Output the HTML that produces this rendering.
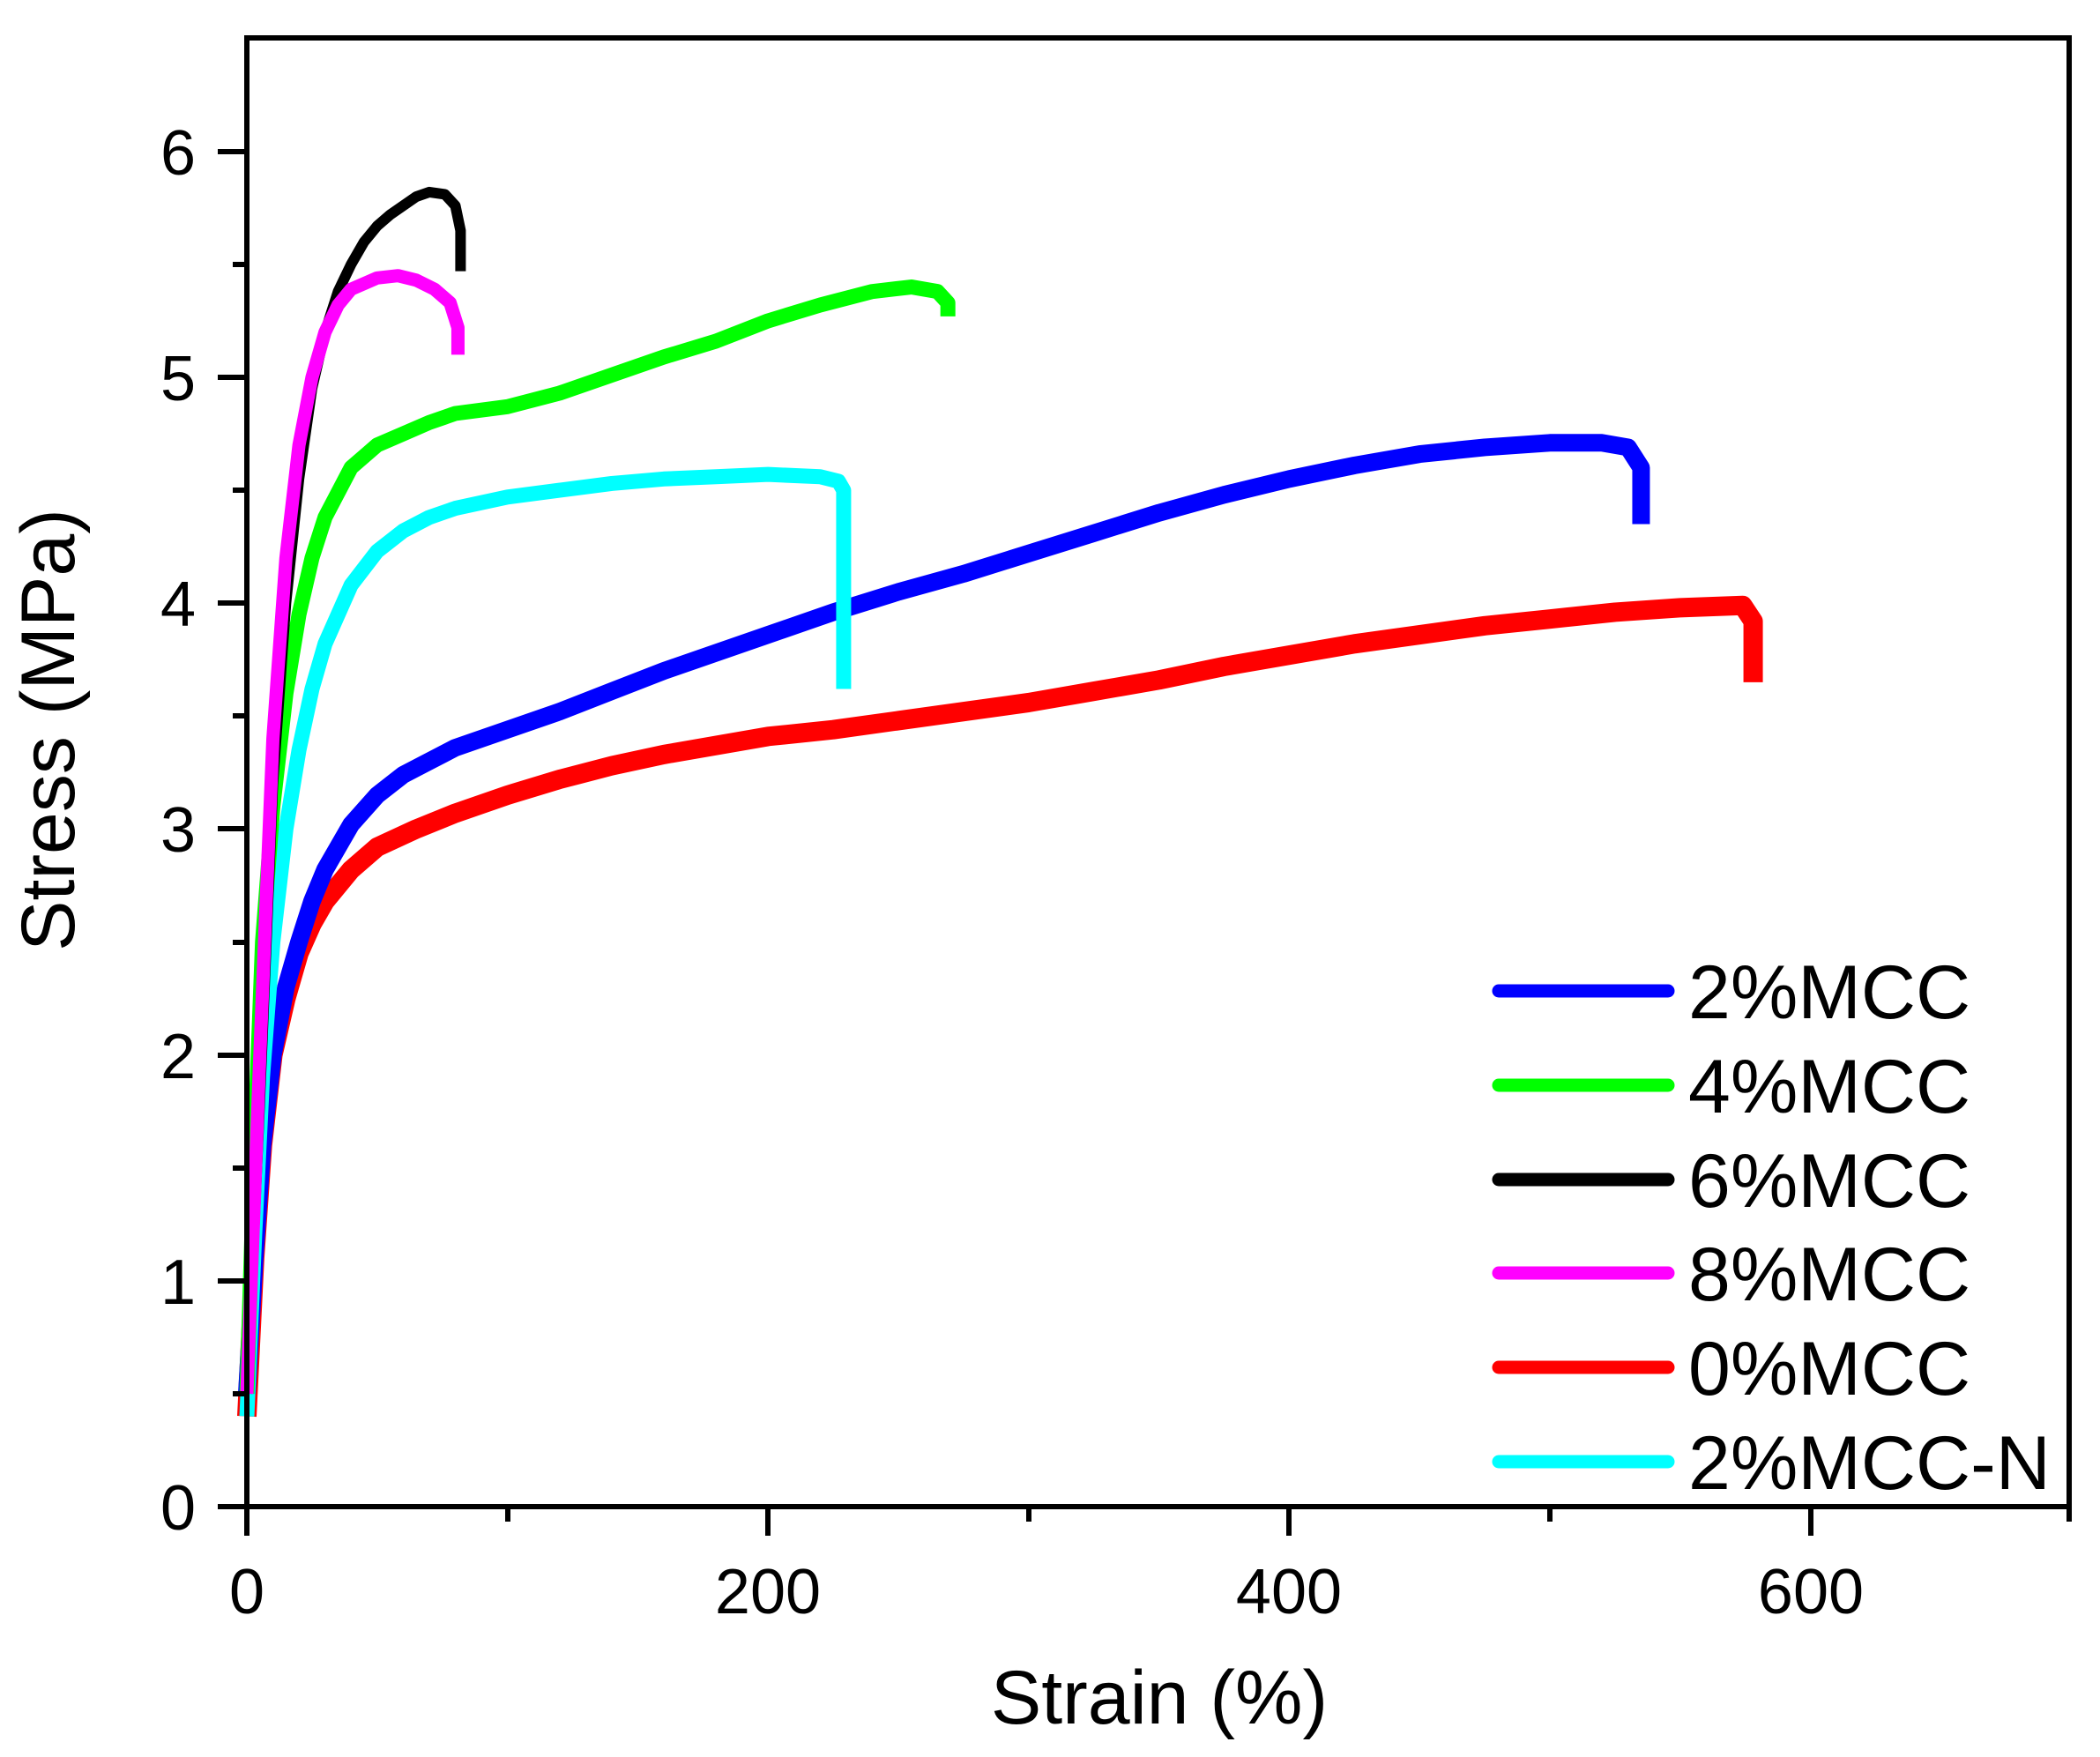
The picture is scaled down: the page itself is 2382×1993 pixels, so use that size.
<!DOCTYPE html>
<html><head><meta charset="utf-8"><style>body{margin:0;background:#fff}svg{display:block}</style></head><body>
<svg width="2382" height="1993" viewBox="0 0 2382 1993" xmlns="http://www.w3.org/2000/svg" font-family="Liberation Sans, sans-serif">
<rect width="2382" height="1993" fill="#fff"/>
<g transform="translate(280,1709) scale(2.956,-256.2)" fill="none" stroke-linejoin="round" stroke-linecap="butt">
<path vector-effect="non-scaling-stroke" stroke="#ff0000" stroke-width="22" d="M0,0.4 L3,1.1 6,1.6 10,2.0 15,2.25 20,2.45 25,2.58 30,2.68 40,2.82 50,2.92 65,3.0 80,3.07 100,3.15 120,3.22 140,3.28 160,3.33 180,3.37 200,3.41 225,3.44 250,3.48 275,3.52 300,3.56 325,3.61 350,3.66 375,3.72 400,3.77 425,3.82 450,3.86 475,3.9 500,3.93 525,3.96 550,3.98 574,3.99 578,3.92 578,3.65"/>
<path vector-effect="non-scaling-stroke" stroke="#0000ff" stroke-width="20" d="M0,0.5 L3,1.1 6,1.6 10,2.0 15,2.3 20,2.5 25,2.68 30,2.82 40,3.02 50,3.15 60,3.24 70,3.3 80,3.36 100,3.44 120,3.52 140,3.61 160,3.7 180,3.78 200,3.86 225,3.96 250,4.05 275,4.13 300,4.22 325,4.31 350,4.4 375,4.48 400,4.55 425,4.61 450,4.66 475,4.69 500,4.71 520,4.71 530,4.69 535,4.6 535,4.35"/>
<path vector-effect="non-scaling-stroke" stroke="#00ffff" stroke-width="17" d="M0,0.4 L3,1.2 6,1.9 10,2.5 15,3.0 20,3.35 25,3.62 30,3.82 40,4.08 50,4.23 60,4.32 70,4.38 80,4.42 100,4.47 120,4.5 140,4.53 160,4.55 180,4.56 200,4.57 220,4.56 227,4.54 229,4.5 229,3.62"/>
<path vector-effect="non-scaling-stroke" stroke="#00ff00" stroke-width="17" d="M0,0.5 L3,1.6 6,2.5 10,3.1 15,3.6 20,3.95 25,4.2 30,4.38 40,4.6 50,4.7 60,4.75 70,4.8 80,4.84 100,4.87 120,4.93 140,5.01 160,5.09 180,5.16 200,5.25 220,5.32 240,5.38 255,5.4 265,5.38 269,5.33 269,5.27"/>
<path vector-effect="non-scaling-stroke" stroke="#000000" stroke-width="12" d="M0,0.5 L5,1.8 10,3.2 15,4.0 20,4.55 25,4.95 30,5.2 35,5.38 40,5.5 45,5.6 50,5.67 55,5.72 60,5.76 65,5.8 70,5.82 76,5.81 80,5.76 82,5.65 82,5.47"/>
<path vector-effect="non-scaling-stroke" stroke="#ff00ff" stroke-width="15" d="M0,0.5 L5,2.0 10,3.4 15,4.2 20,4.7 25,5.0 30,5.2 35,5.32 40,5.39 50,5.44 58,5.45 65,5.43 72,5.39 78,5.33 81,5.22 81,5.1"/>
</g>
<rect x="280" y="43" width="2067" height="1666" fill="none" stroke="#000" stroke-width="6"/>
<g stroke="#000" stroke-width="6">
<line x1="280" y1="1709" x2="280" y2="1742"/><line x1="871" y1="1709" x2="871" y2="1742"/><line x1="1462" y1="1709" x2="1462" y2="1742"/><line x1="2054" y1="1709" x2="2054" y2="1742"/>
<line x1="576" y1="1709" x2="576" y2="1726"/><line x1="1167" y1="1709" x2="1167" y2="1726"/><line x1="1758" y1="1709" x2="1758" y2="1726"/><line x1="2347" y1="1709" x2="2347" y2="1726"/>
<line x1="247" y1="1709" x2="280" y2="1709"/><line x1="247" y1="1453" x2="280" y2="1453"/><line x1="247" y1="1197" x2="280" y2="1197"/><line x1="247" y1="940" x2="280" y2="940"/><line x1="247" y1="684" x2="280" y2="684"/><line x1="247" y1="428" x2="280" y2="428"/><line x1="247" y1="172" x2="280" y2="172"/>
<line x1="264" y1="1581" x2="280" y2="1581"/><line x1="264" y1="1325" x2="280" y2="1325"/><line x1="264" y1="1069" x2="280" y2="1069"/><line x1="264" y1="812" x2="280" y2="812"/><line x1="264" y1="556" x2="280" y2="556"/><line x1="264" y1="300" x2="280" y2="300"/>
</g>
<g font-size="72" fill="#000" text-anchor="end">
<text x="222" y="1735">0</text><text x="222" y="1479">1</text><text x="222" y="1223">2</text><text x="222" y="966">3</text><text x="222" y="710">4</text><text x="222" y="454">5</text><text x="222" y="198">6</text>
</g>
<g font-size="72" fill="#000" text-anchor="middle">
<text x="280" y="1830">0</text><text x="871" y="1830">200</text><text x="1462" y="1830">400</text><text x="2054" y="1830">600</text>
</g>
<text x="1315" y="1955" font-size="86" text-anchor="middle">Strain (%)</text>
<text transform="translate(84,828) rotate(-90)" font-size="86" text-anchor="middle">Stress (MPa)</text>
<g stroke-width="15" stroke-linecap="round">
<line x1="1700" y1="1124" x2="1892" y2="1124" stroke="#0000ff"/>
<line x1="1700" y1="1231" x2="1892" y2="1231" stroke="#00ff00"/>
<line x1="1700" y1="1338" x2="1892" y2="1338" stroke="#000"/>
<line x1="1700" y1="1444" x2="1892" y2="1444" stroke="#ff00ff"/>
<line x1="1700" y1="1551" x2="1892" y2="1551" stroke="#ff0000"/>
<line x1="1700" y1="1658" x2="1892" y2="1658" stroke="#00ffff"/>
</g>
<g font-size="86" fill="#000">
<text x="1915" y="1155">2%MCC</text><text x="1915" y="1262">4%MCC</text><text x="1915" y="1369">6%MCC</text><text x="1915" y="1475">8%MCC</text><text x="1915" y="1582">0%MCC</text><text x="1915" y="1689">2%MCC-N</text>
</g>
</svg>
</body></html>
